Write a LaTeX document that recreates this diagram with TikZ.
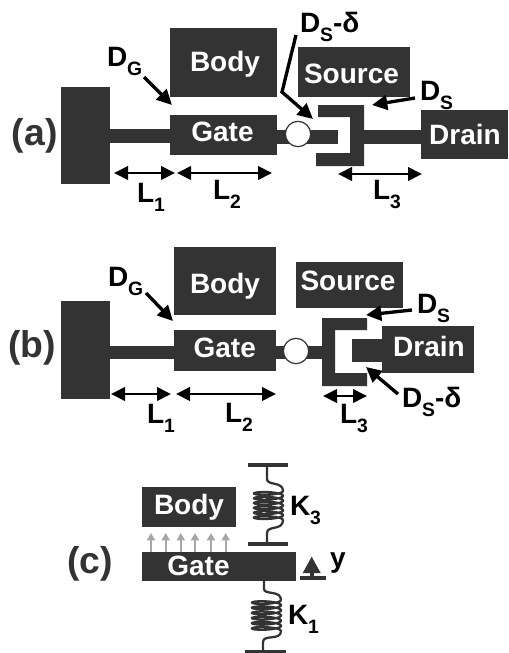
\documentclass[tikz,border=0pt]{standalone}
\usepackage{fontspec}
\setmainfont{Liberation Sans}[BoldFont={Liberation Sans Bold}]
\usetikzlibrary{arrows.meta}
\definecolor{ink}{HTML}{333333}
% name, x1, y1, x2, y2, text, text centre x, text baseline y (all in reference pixels)
\newcommand{\pbox}[8]{%
  \pgfmathsetmacro{\bw}{(#4-#2)*0.75}\pgfmathsetmacro{\bh}{(#5-#3)*0.75}%
  \pgfmathsetmacro{\tdx}{(#7-(#2+#4)/2)*1.5}\pgfmathsetmacro{\tdy}{((#3+#5)/2-#8)*0.75}%
  \node[blk,minimum width=\bw pt,minimum height=\bh pt] (#1) at ({(#2+#4)/2},{(#3+#5)/2})
    {\smash{\raisebox{\tdy pt}{\makebox[0pt]{\hspace*{\tdx pt}#6}}}};}
\newcommand{\spring}[3]{% centre x, coil top, coil bottom
  \draw[coil,domain=0:2160,samples=220,smooth] plot ({#1+14.5*cos(\x)},{#2+\x/2160*(#3-#2)+2.5*sin(\x)});}
\tikzset{
  x=0.75pt,y=-0.75pt,
  blk/.style={fill=ink,draw=none,inner sep=0pt,outer sep=0pt,text=white,font=\bfseries\fontsize{21}{21}\selectfont},
  part/.style={fill=ink,draw=none},
  lab/.style={inner sep=0pt,outer sep=0pt,text=black,font=\bfseries\fontsize{21}{21}\selectfont,anchor=base west},
  tag/.style={inner sep=0pt,outer sep=0pt,text=ink,font=\bfseries\fontsize{28}{28}\selectfont,anchor=base west},
  pointer/.style={draw=black,line width=2.5pt,-{Triangle[length=11.5pt,width=11pt]}},
  dim/.style={draw=black,line width=2pt,{Triangle[length=10.5pt,width=10pt]}-{Triangle[length=10.5pt,width=10pt]}},
  lift/.style={draw=gray!70,line width=1.3pt,-{Triangle[length=5.5pt,width=6pt]}},
  coil/.style={draw=ink,line width=1.7pt},
  plate/.style={draw=ink,line width=2.3pt},
}
\newcommand{\sub}[1]{\raisebox{-0.34em}{\fontsize{14.5}{14.5}\selectfont #1}}
\begin{document}
\begin{tikzpicture}
\useasboundingbox (0,0) rectangle (508,653);
% ---------- (a)
\node[tag] (tagA) at (12,145) {(a)};
\pbox{anchorA}{60.5}{87}{110}{184}{}{85}{135}
\pbox{bodyA}{170}{28}{277}{97}{Body}{225}{72}
\pbox{gateA}{170}{115}{277}{155}{Gate}{222.5}{141}
\pbox{sourceA}{298}{47}{410}{97}{Source}{351.5}{83}
\pbox{drainA}{421}{110}{508}{159}{Drain}{465}{144}
\pbox{beamA}{110}{129}{170}{143}{}{140}{136}
\pbox{shaftA}{277}{130}{338}{144}{}{300}{137}
\pbox{stemA}{364}{130}{421}{144}{}{390}{137}
\fill[part] (318,105) -- (364,105) -- (364,166) -- (316,166) -- (316,153) -- (350,153) -- (350,117) -- (318,117) -- cycle;
\node[circle,draw=ink,fill=white,line width=0.9pt,minimum size=19pt,inner sep=0pt] (hingeA) at (298,134) {};
\coordinate (a1) at (114,173); \coordinate (a2) at (175,173);
\coordinate (a3) at (177,173); \coordinate (a4) at (272,173);
\coordinate (a5) at (338,174); \coordinate (a6) at (422,174);
\draw[dim] (a1) -- (a2);
\draw[dim] (a3) -- (a4);
\draw[dim] (a5) -- (a6);
\node[lab] (l1A) at (137,202) {L\sub{1}};
\node[lab] (l2A) at (213,199) {L\sub{2}};
\node[lab] (l3A) at (373,199) {L\sub{3}};
\node[lab] (dgA) at (107,66) {D\sub{G}};
\coordinate (dgA0) at (144,77); \coordinate (dgA1) at (172,105);
\draw[pointer] (dgA0) -- (dgA1);
\node[lab] (dsdA) at (300,32) {D\sub{S}-δ};
\coordinate (dsdA0) at (296,35); \coordinate (dsdA1) at (282,92); \coordinate (dsdA2) at (313,119);
\draw[pointer,line join=miter] (dsdA0) -- (dsdA1) -- (dsdA2);
\node[lab] (dsA) at (420,100) {D\sub{S}};
\coordinate (dsA0) at (415,98); \coordinate (dsA1) at (372,105);
\draw[pointer] (dsA0) -- (dsA1);
% ---------- (b)
\node[tag] (tagB) at (8,357) {(b)};
\pbox{anchorB}{60.5}{301}{110}{399}{}{85}{350}
\pbox{bodyB}{174}{247}{276}{315}{Body}{225}{293}
\pbox{gateB}{174}{330}{276}{371}{Gate}{224.7}{357}
\pbox{sourceB}{296}{262}{403}{308}{Source}{348}{290}
\pbox{drainB}{382}{326}{474}{373}{Drain}{429}{356}
\pbox{beamB}{110}{346}{174}{359}{}{142}{353}
\pbox{shaftB}{276}{346}{322}{359}{}{300}{353}
\pbox{stemB}{352}{339}{382}{362}{}{367}{351}
\fill[part] (322,318) -- (367,318) -- (367,330) -- (335,330) -- (335,373) -- (367,373) -- (367,386) -- (322,386) -- cycle;
\node[circle,draw=ink,fill=white,line width=0.9pt,minimum size=19pt,inner sep=0pt] (hingeB) at (296,351) {};
\coordinate (b1) at (111,394); \coordinate (b2) at (171,394);
\coordinate (b3) at (176,394); \coordinate (b4) at (276,394);
\coordinate (b5) at (323,396); \coordinate (b6) at (367,396);
\draw[dim] (b1) -- (b2);
\draw[dim] (b3) -- (b4);
\draw[dim] (b5) -- (b6);
\node[lab] (l1B) at (147,423) {L\sub{1}};
\node[lab] (l2B) at (225,422) {L\sub{2}};
\node[lab] (l3B) at (340,423) {L\sub{3}};
\node[lab] (dgB) at (108,286) {D\sub{G}};
\coordinate (dgB0) at (146,293); \coordinate (dgB1) at (173,321);
\draw[pointer] (dgB0) -- (dgB1);
\node[lab] (dsB) at (417,313) {D\sub{S}};
\coordinate (dsB0) at (412,310); \coordinate (dsB1) at (366,315);
\draw[pointer] (dsB0) -- (dsB1);
\node[lab] (dsdB) at (402,407) {D\sub{S}-δ};
\coordinate (dsdB0) at (398,394); \coordinate (dsdB1) at (366,367);
\draw[pointer] (dsdB0) -- (dsdB1);
% ---------- (c)
\node[tag] (tagC) at (67,573) {(c)};
\pbox{bodyC}{142}{487}{236}{527}{Body}{189}{514}
\pbox{gateC}{142}{552}{296}{581}{Gate}{198.5}{575}
\foreach \ax in {151,165.7,180.7,195,211,225.7}{
  \coordinate (p) at (\ax,552); \coordinate (q) at (\ax,533);
  \draw[lift] (p) -- (q);}
% upper spring
\coordinate (t1) at (248,465); \coordinate (t2) at (288,465);
\coordinate (t3) at (248,544); \coordinate (t4) at (288,544);
\draw[plate] (t1) -- (t2);
\draw[plate] (t3) -- (t4);
\draw[coil] (267,465) -- (267,479) .. controls (267,486) and (283,481) .. (283,491);
\spring{268.5}{491}{520}
\draw[coil] (283,520) .. controls (283,531) and (267,525) .. (267,533) -- (267,544);
\node[lab] (k3) at (290,515) {K\sub{3}};
% lower spring
\coordinate (u1) at (245,651.5); \coordinate (u2) at (286,651.5);
\draw[plate] (u1) -- (u2);
\draw[coil] (264,581) -- (264,589) .. controls (264,595) and (281,590) .. (281,600);
\spring{266.5}{600}{631}
\draw[coil] (281,631) .. controls (281,641) and (263,634) .. (263,642) -- (263,652);
\node[lab] (k1) at (288,624) {K\sub{1}};
% y marker
\fill[part] (311.7,556.7) -- (320.7,573) -- (302.7,573) -- cycle;
\coordinate (y0) at (312,573); \coordinate (y1) at (300,578); \coordinate (y2) at (326,578);
\draw[plate] (y1) -- (y2);
\draw[plate] (y0) -- (312,578);
\node[lab] (ylab) at (330,567) {y};
\end{tikzpicture}
\end{document}
